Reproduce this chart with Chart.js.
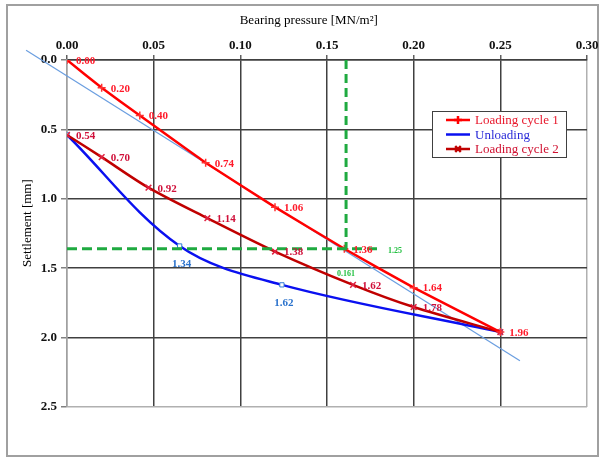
<!DOCTYPE html>
<html>
<head>
<meta charset="utf-8">
<script src="https://cdn.jsdelivr.net/npm/chart.js@4"></script>
<style>
body{margin:0;background:#fff}
#wrap{position:relative;width:601px;height:457px}
</style>
</head>
<body>
<div id="wrap"><canvas id="myChart"></canvas></div>
<script>
const xTicks = [0, 0.05, 0.10, 0.15, 0.20, 0.25, 0.30];
const yTicks = [0, 0.5, 1.0, 1.5, 2.0, 2.5];

const pressure1 = [0, 0.02, 0.042, 0.08, 0.12, 0.16, 0.20, 0.25];
const settle1 = [0.00, 0.20, 0.40, 0.74, 1.06, 1.36, 1.64, 1.96];

const pressureU = [0.25, 0.124, 0.065, 0];
const settleU = [1.96, 1.62, 1.34, 0.54];

const pressure2 = [0, 0.02, 0.047, 0.081, 0.12, 0.165, 0.20, 0.25];
const settle2 = [0.54, 0.70, 0.92, 1.14, 1.38, 1.62, 1.78, 1.96];

const trendX = [-0.0236, 0.2613];
const trendY = [-0.071, 2.166];

const greenVX = [0.161, 0.161];
const greenVY = [0, 1.36];
const greenHX = [0, 0.18];
const greenHY = [1.36, 1.36];

const serif = "'Liberation Serif', 'DejaVu Serif', serif";

function pts(xs, ys){
  return xs.map((v, i) => ({x: v, y: ys[i]}));
}

// frame, axis titles, legend, point labels
const extras = {
  id: 'extras',
  beforeDraw(chart){
    const ctx = chart.ctx;
    ctx.save();
    ctx.fillStyle = '#fff';
    ctx.fillRect(0, 0, chart.width, chart.height);
    ctx.strokeStyle = '#a0a0a0';
    ctx.lineWidth = 2;
    ctx.strokeRect(7, 5, 591, 451);
    ctx.restore();
  },
  afterDatasetsDraw(chart){
    const ctx = chart.ctx;
    ctx.save();
    chart.data.datasets.forEach((ds, di) => {
      if (!ds.labelColor) return;
      const meta = chart.getDatasetMeta(di);
      ctx.font = "bold 11px " + serif;
      ctx.fillStyle = ds.labelColor;
      meta.data.forEach((el, i) => {
        if (ds.labelSkip && ds.labelSkip.includes(i)) return;
        const txt = ds.data[i].y.toFixed(2);
        if (ds.labelPos === 'below'){
          ctx.textAlign = 'center';
          ctx.textBaseline = 'middle';
          ctx.fillText(txt, el.x + 2, el.y + 18);
        } else {
          ctx.textAlign = 'left';
          ctx.textBaseline = 'middle';
          ctx.fillText(txt, el.x + 9, el.y + 1);
        }
      });
    });
    // green reference labels
    const xs = chart.scales.x, ys = chart.scales.y;
    ctx.font = "bold 8px " + serif;
    ctx.fillStyle = '#22c040';
    ctx.textAlign = 'center';
    ctx.textBaseline = 'middle';
    ctx.fillText('0.161', xs.getPixelForValue(greenVX[1]), ys.getPixelForValue(greenVY[1]) + 25);
    ctx.fillText('1.25', xs.getPixelForValue(greenHX[1]) + 16, ys.getPixelForValue(greenHY[1]) + 2);
    ctx.restore();
  },
  afterDraw(chart){
    const ctx = chart.ctx;
    const a = chart.chartArea;
    ctx.save();
    ctx.fillStyle = '#000';
    ctx.font = "13px " + serif;
    ctx.textAlign = 'center';
    ctx.textBaseline = 'middle';
    ctx.fillText('Bearing pressure [MN/m²]', a.left + (a.right - a.left) * 0.465, 21);
    ctx.translate(28, a.top + (a.bottom - a.top) * 0.47);
    ctx.rotate(-Math.PI / 2);
    ctx.fillText('Settlement [mm]', 0, 0);
    ctx.restore();

    // legend
    const lx = 432, ly = 111, lw = 134, lh = 46;
    ctx.save();
    ctx.fillStyle = '#fff';
    ctx.fillRect(lx, ly, lw, lh);
    ctx.strokeStyle = '#404040';
    ctx.lineWidth = 1;
    ctx.strokeRect(lx + 0.5, ly + 0.5, lw, lh);
    ctx.font = "13px " + serif;
    ctx.textAlign = 'left';
    ctx.textBaseline = 'middle';
    chart.data.datasets.slice(0, 3).forEach((ds, i) => {
      const y = ly + 9 + i * 14.5;
      ctx.strokeStyle = ds.borderColor;
      ctx.lineWidth = 2.5;
      ctx.setLineDash([]);
      ctx.beginPath();
      ctx.moveTo(lx + 14, y);
      ctx.lineTo(lx + 38, y);
      ctx.stroke();
      if (ds.legendMark){
        Chart.helpers.drawPoint(ctx, {pointStyle: ds.legendMark, radius: 4, borderWidth: 1.5}, lx + 26, y);
      }
      ctx.fillStyle = ds.textColor;
      ctx.fillText(ds.label, lx + 43, y + 1);
    });
    ctx.restore();
  }
};

const data = {
  datasets: [
    {
      label: 'Loading cycle 1',
      data: pts(pressure1, settle1),
      borderColor: '#ff0000',
      backgroundColor: '#ff0000',
      borderWidth: 2.5,
      tension: 0.1,
      pointStyle: 'cross',
      pointRadius: 4,
      pointBorderWidth: 1.5,
      pointBorderColor: '#ff3030',
      legendMark: 'cross',
      textColor: '#e8182c',
      labelColor: '#ff1a2a',
      order: 1
    },
    {
      label: 'Unloading',
      data: pts(pressureU, settleU),
      borderColor: '#0a10f0',
      backgroundColor: '#ffffff',
      borderWidth: 2.5,
      tension: 0.35,
      pointStyle: 'rect',
      pointRadius: 3,
      pointBorderWidth: 1,
      pointBorderColor: '#2f7ad8',
      textColor: '#2a2ad8',
      labelColor: '#2a72cc',
      labelPos: 'below',
      labelSkip: [0, 3],
      order: 3
    },
    {
      label: 'Loading cycle 2',
      data: pts(pressure2, settle2),
      borderColor: '#c00000',
      backgroundColor: '#c00000',
      borderWidth: 2.5,
      tension: 0.3,
      pointStyle: 'crossRot',
      pointRadius: 4,
      pointBorderWidth: 1.5,
      pointBorderColor: '#e02040',
      legendMark: 'crossRot',
      textColor: '#d01030',
      labelColor: '#d0103a',
      labelSkip: [7],
      order: 2
    },
    {
      label: 'trend',
      data: pts(trendX, trendY),
      borderColor: '#6a9ee0',
      borderWidth: 1.2,
      pointRadius: 0,
      clip: false,
      order: 4
    },
    {
      label: 'green v',
      data: pts(greenVX, greenVY),
      borderColor: '#1faa40',
      borderWidth: 3,
      borderDash: [9, 5],
      pointRadius: 0,
      order: 0
    },
    {
      label: 'green h',
      data: pts(greenHX, greenHY),
      borderColor: '#1faa40',
      borderWidth: 3,
      borderDash: [10, 5],
      pointRadius: 0,
      order: 0
    }
  ]
};

const config = {
  type: 'line',
  data: data,
  plugins: [extras],
  options: {
    responsive: true,
    maintainAspectRatio: false,
    animation: false,
    devicePixelRatio: 1,
    layout: {padding: {left: 0, top: 0, right: 14, bottom: 50}},
    plugins: {
      legend: {display: false},
      tooltip: {enabled: false}
    },
    scales: {
      x: {
        type: 'linear',
        position: 'top',
        min: 0,
        max: 0.3,
        afterBuildTicks: s => { s.ticks = xTicks.map(v => ({value: v})); },
        afterFit: s => { s.height = 60; },
        ticks: {
          callback: v => v.toFixed(2),
          font: {family: serif, size: 13, weight: 'bold'},
          color: '#111',
          padding: 2,
          maxRotation: 0,
          autoSkip: false
        },
        grid: {
          color: c => c.index === 0 ? '#a0a0a0' : (c.index === 6 ? '#b0b0b0' : '#404040'),
          lineWidth: 1.5,
          tickLength: 5,
          tickColor: '#606060'
        },
        border: {color: '#404040', width: 1.5}
      },
      y: {
        type: 'linear',
        reverse: true,
        min: 0,
        max: 2.5,
        afterBuildTicks: s => { s.ticks = yTicks.map(v => ({value: v})); },
        afterFit: s => { s.width = 67; },
        ticks: {
          callback: v => v.toFixed(1),
          font: {family: serif, size: 13, weight: 'bold'},
          color: '#111',
          padding: 4
        },
        grid: {
          color: c => c.index === 5 ? '#b0b0b0' : '#404040',
          lineWidth: 1.5,
          tickLength: 6,
          tickColor: '#808080'
        },
        border: {color: '#a0a0a0', width: 1.5}
      }
    }
  }
};

const myChart = new Chart(document.getElementById('myChart').getContext('2d'), config);
</script>
</body>
</html>
